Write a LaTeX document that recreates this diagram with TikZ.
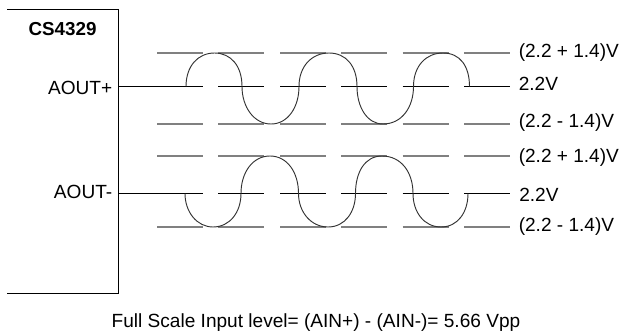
\documentclass[tikz,border=0pt]{standalone}
\usepackage{fontspec}
\setmainfont{Liberation Sans}
\tikzset{
  chip/.style={draw=black,line width=0.75pt},
  lvl/.style={draw=black!50,line width=1.4pt},
  mid/.style={draw=black,line width=0.75pt},
  wave/.style={draw=black!80,line width=0.7pt},
  lab/.style={inner sep=0pt,font=\fontsize{14.3}{16}\selectfont}
}
\newcommand{\rowdashes}[2]{%
 \foreach \a/\b in {157.3/202.7,218.3/264,280/325.7,341/387,402.7/448.7,464/510}{
   \draw[#2] (\a,#1) -- (\b,#1);}}
\begin{document}
\begin{tikzpicture}[x=0.75pt,y=-0.75pt]
\useasboundingbox (0,0) rectangle (621,335);
\draw[chip] (7,9.5) coordinate (tl) -- (118.5,9.5) coordinate (tr) -- (118.5,293.5) coordinate (br) -- (7,293.5) coordinate (bl);
\node[lab,font=\fontsize{14.1}{16}\selectfont\bfseries,anchor=base] (chipname) at (62.5,35.7) {CS4329};
\rowdashes{53}{lvl}
\rowdashes{86.5}{mid}
\rowdashes{124}{lvl}
\rowdashes{156}{lvl}
\rowdashes{193.5}{mid}
\rowdashes{227}{lvl}
\node[lab,anchor=base east] (aoutp) at (112.5,94.3) {AOUT+};
\node[lab,anchor=base east] (aoutm) at (112.5,198.3) {AOUT-};
\coordinate (pl) at (118.5,86.5); \coordinate (ml) at (118.5,193.5);
\coordinate (ps) at (157.3,86.5); \coordinate (ms) at (157.3,193.5);
\draw[mid] (pl) -- (ps);
\draw[mid] (ml) -- (ms);
% upper wave
\draw[wave] (186,86.5) .. controls (186,66) and (198,53) .. (214.5,53)
 .. controls (231,53) and (242,66) .. (242,86.5)
 .. controls (242,107) and (254,124) .. (271,124)
 .. controls (288,124) and (299,107) .. (299,86.5)
 .. controls (299,66) and (312,53) .. (329,53)
 .. controls (346,53) and (357,66) .. (357,86.5)
 .. controls (357,107) and (367,124) .. (383,124)
 .. controls (402,124) and (413.5,107) .. (413.5,86.5)
 .. controls (413.5,66) and (426,53) .. (443,53)
 .. controls (460,53) and (469.5,66) .. (469.5,86.5);
% lower wave
\draw[wave] (185,193.5) .. controls (185,212) and (197,227) .. (213,227)
 .. controls (230,227) and (241,212) .. (241,193.5)
 .. controls (241,172) and (253,156) .. (270,156)
 .. controls (287,156) and (298.5,172) .. (298.5,193.5)
 .. controls (298.5,212) and (311,227) .. (328,227)
 .. controls (345,227) and (355.5,212) .. (355.5,193.5)
 .. controls (355.5,172) and (365,156) .. (382,156)
 .. controls (401,156) and (413,172) .. (413,193.5)
 .. controls (413,212) and (424,227) .. (441,227)
 .. controls (458,227) and (468,212) .. (468,193.5);
\node[lab,anchor=base west] (a1) at (518.5,57.7) {(2.2 + 1.4)V};
\node[lab,anchor=base west] (a2) at (518.5,91) {2.2V};
\node[lab,anchor=base west] (a3) at (518.5,127.7) {(2.2 - 1.4)V};
\node[lab,anchor=base west] (b1) at (518.5,162.3) {(2.2 + 1.4)V};
\node[lab,anchor=base west] (b2) at (519,201) {2.2V};
\node[lab,anchor=base west] (b3) at (518.5,231.7) {(2.2 - 1.4)V};
\node[lab,anchor=base] (foot) at (316,327.7) {Full Scale Input level= (AIN+) - (AIN-)= 5.66 Vpp};
\end{tikzpicture}
\end{document}
